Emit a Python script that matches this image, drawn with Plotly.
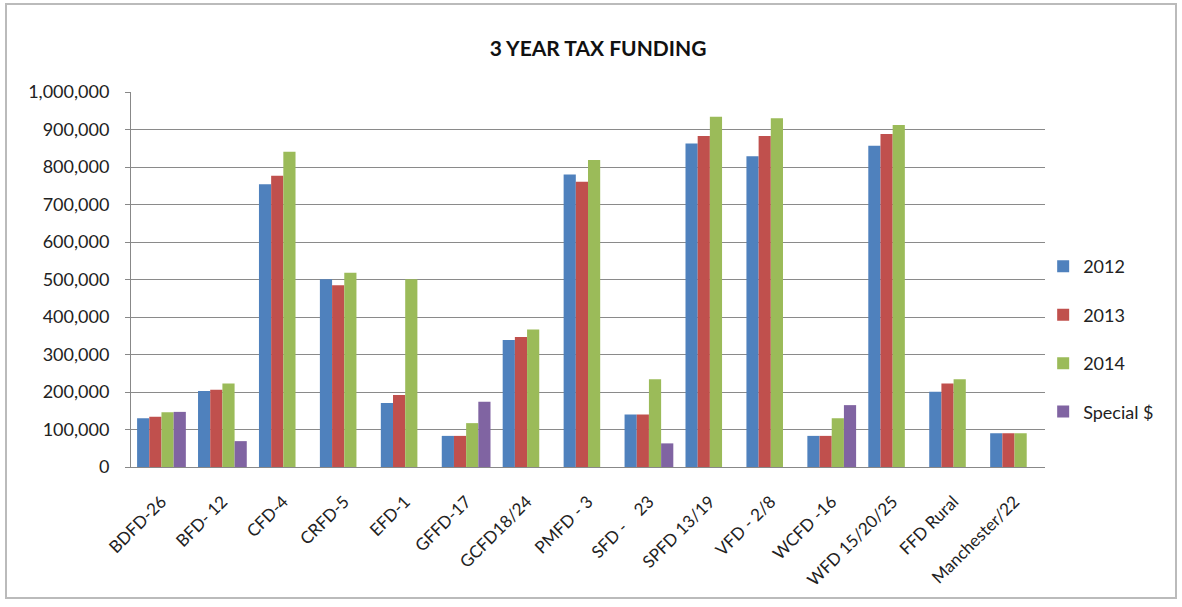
import plotly.graph_objects as go

categories = ["BDFD-26", "BFD- 12", "CFD-4", "CRFD-5", "EFD-1", "GFFD-17", "GCFD18/24",
              "PMFD - 3", "SFD -\u00a0\u00a0\u00a0 23", "SPFD 13/19", "VFD - 2/8", "WCFD -16",
              "WFD 15/20/25", "FFD Rural", "Manchester/22"]
y2012 = [130000, 203000, 754000, 501000, 171000, 83000, 339000, 780000, 140000, 863000, 829000, 83000, 857000, 201000, 90000]
y2013 = [134000, 206000, 777000, 485000, 192000, 83000, 347000, 761000, 140000, 883000, 883000, 83000, 888000, 223000, 90000]
y2014 = [146000, 223000, 841000, 518000, 501000, 117000, 367000, 819000, 234000, 934000, 930000, 130000, 912000, 234000, 90000]
special = [147000, 69000, None, None, None, 174000, None, None, 63000, None, None, 165000, None, None, None]
series_names = ["2012", "2013", "2014", "Special $"]
colors = ["#4F81BD", "#C0504D", "#9BBB59", "#8064A2"]
tick_vals = [0, 100000, 200000, 300000, 400000, 500000, 600000, 700000, 800000, 900000, 1000000]

font_family = "Lato, 'Open Sans', sans-serif"

fig = go.Figure()
for name, vals, col in zip(series_names, [y2012, y2013, y2014, special], colors):
    fig.add_trace(go.Bar(x=categories, y=vals, name=name, marker_color=col,
                         marker_line_width=0, legendgroup=name))

fig.update_layout(
    width=1182, height=607,
    paper_bgcolor="white", plot_bgcolor="white",
    margin=dict(l=131, r=137, t=92, b=140),
    barmode="group", bargap=0.2, bargroupgap=0,
    font=dict(family=font_family, size=17, color="#222"),
    title=dict(text="<b>3 YEAR TAX FUNDING</b>", x=0.506, xanchor="center",
               y=1 - 49 / 607, yanchor="middle",
               font=dict(size=21, color="#111", family=font_family)),
    showlegend=True,
    legend=dict(x=0.998, xanchor="left", y=0.341, yanchor="middle",
                traceorder="grouped", tracegroupgap=22,
                font=dict(size=18, color="#222"), bgcolor="rgba(0,0,0,0)"),
    xaxis=dict(tickangle=-45, showline=True, linecolor="#888", linewidth=1,
               tickfont=dict(size=17, color="#222"), ticks="", showgrid=False,
               ticklabelstandoff=17),
    yaxis=dict(range=[0, 1000000], tickvals=tick_vals, tickformat=",d",
               showline=True, linecolor="#888", linewidth=1,
               gridcolor="#8a8a8a", gridwidth=1,
               ticks="outside", ticklen=5, tickcolor="#888",
               ticklabelstandoff=12,
               tickfont=dict(size=18, color="#222"), zeroline=False),
    shapes=[dict(type="rect", xref="paper", yref="paper",
                 x0=-125 / 914, x1=(1176 - 131) / 914,
                 y0=-(598 - 467) / 375, y1=1 + (92 - 4) / 375,
                 line=dict(color="#bbbbbb", width=2), fillcolor="rgba(0,0,0,0)",
                 layer="below")],
)

fig.write_html("out.html")
